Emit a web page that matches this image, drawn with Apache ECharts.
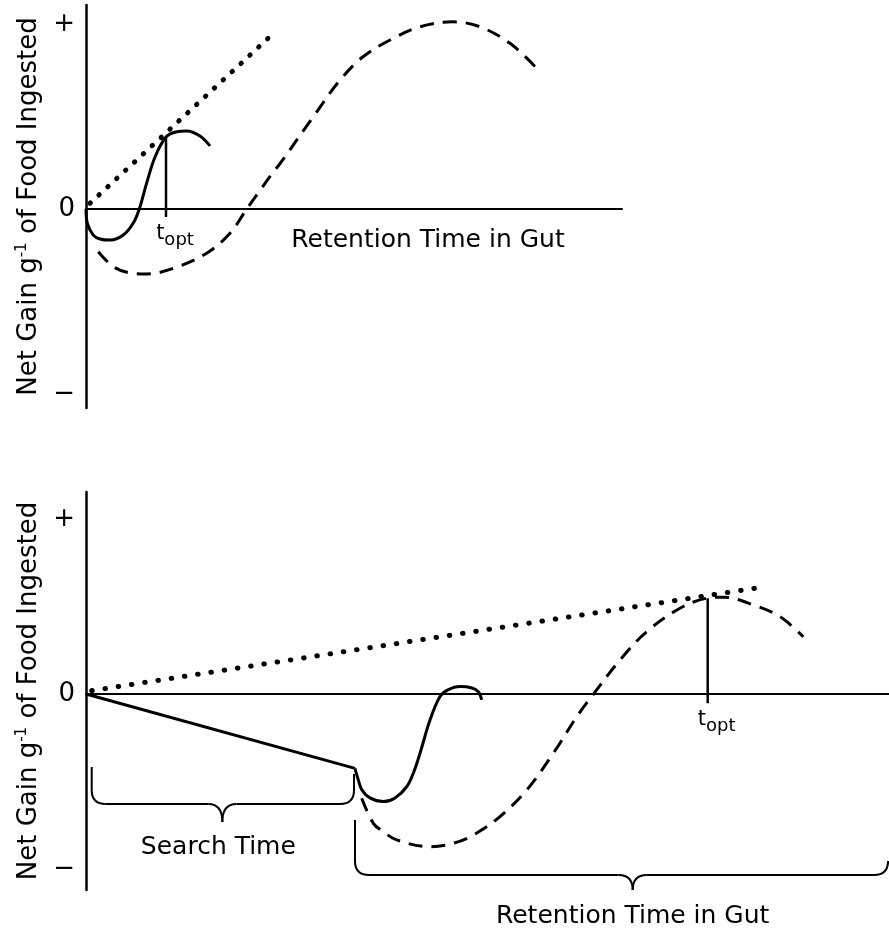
<!DOCTYPE html>
<html>
<head>
<meta charset="utf-8">
<script src="https://cdn.jsdelivr.net/npm/echarts@6/dist/echarts.min.js"></script>
<style>
html, body { margin: 0; padding: 0; background: #fff; }
#chart { width: 889px; height: 934px; }
</style>
</head>
<body>
<div id="chart"></div>
<script>
// x = time (arbitrary units), y = net gain (+1 / -1 at the + and - marks)

// upper panel
const topShort = [[0,0],[0.13,-0.076],[0.73,-0.141],[1.4,-0.162],[2.4,-0.168],[3.73,-0.141],[4.73,-0.076],[5.33,0],[6.07,0.141],[6.9,0.281],[8.0,0.389],[9.07,0.418],[10.07,0.422],[11.4,0.395],[12.4,0.341]];
const topLong = [[1.23,-0.231],[2.73,-0.312],[4.4,-0.346],[6.07,-0.351],[8.73,-0.321],[12.07,-0.239],[14.4,-0.131],[16.07,0],[17.4,0.1],[18.73,0.2],[19.4,0.245],[22.73,0.499],[25.4,0.697],[27.7,0.823],[30.4,0.914],[33.4,0.985],[36.7,1.012],[39.4,0.985],[42.4,0.896],[45.07,0.761]];
const topTangent = [[0.4,0.031],[18.75,0.95]];
const topOpt = [[8.0,0.389],[8.0,-0.043]];

// lower panel
const botSearch = [[0,0],[26.9,-0.425]];
const botShort = [[26.9,-0.425],[27.23,-0.491],[27.6,-0.549],[28.4,-0.594],[29.73,-0.615],[30.9,-0.594],[32.07,-0.53],[32.73,-0.453],[33.4,-0.339],[34.4,-0.149],[35.4,-0.015],[36.2,0.023],[37.4,0.042],[38.6,0.034],[39.23,0.013],[39.57,-0.034]];
const botLong = [[27.57,-0.596],[28.73,-0.739],[29.73,-0.787],[31.07,-0.834],[34.4,-0.873],[36.73,-0.853],[38.73,-0.806],[41.4,-0.701],[44.07,-0.549],[46.73,-0.339],[49.07,-0.13],[50.8,0.003],[53.4,0.194],[56.07,0.356],[59.4,0.49],[62.07,0.547],[63.73,0.553],[66.73,0.509],[69.4,0.442],[71.73,0.327]];
const botTangent = [[0.57,0.019],[67.57,0.61]];
const botOpt = [[62.17,0.547],[62.17,-0.053]];
const searchSpan = [0.57, 26.9];
const retentionSpan = [26.9, 80.3];

const yTicks = [-1, 0, 1];
const yTickText = {'-1': '\u2212', '0': '0', '1': '+'};
const yTitle = 'Net Gain g{sup|-1} of Food Ingested';
const xTitle = 'Retention Time in Gut';
const searchTitle = 'Search Time';

const FONT = '"DejaVu Sans", sans-serif';

const chart = echarts.init(document.getElementById('chart'));

function yAxis(grid, min, max) {
  return {
    type: 'value', gridIndex: grid, min: min, max: max,
    splitLine: { show: false },
    axisTick: { show: false },
    axisLine: { show: true, onZero: false, lineStyle: { color: '#000', width: 2.5 } },
    axisLabel: {
      customValues: yTicks, margin: 11,
      fontSize: 26, fontFamily: FONT, color: '#000',
      formatter: v => yTickText[String(Math.round(v))]
    },
    name: yTitle, nameLocation: 'middle', nameRotate: 90, nameGap: 43,
    nameTextStyle: {
      fontSize: 26, fontFamily: FONT, color: '#000',
      rich: { sup: { fontSize: 15, fontFamily: FONT, color: '#000', verticalAlign: 'top', lineHeight: 28 } }
    }
  };
}

function xAxis(grid, max) {
  return {
    type: 'value', gridIndex: grid, min: 0, max: max,
    splitLine: { show: false },
    axisTick: { show: false },
    axisLabel: { show: false },
    axisLine: { show: true, onZero: true, lineStyle: { color: '#000', width: 2 } }
  };
}

function curve(grid, data, kind, smooth, gap) {
  const style = { color: '#000', width: 3 };
  if (kind === 'dash') { style.type = [14, 9]; }
  if (kind === 'dot') { style.type = [0.5, gap]; style.width = 5; style.cap = 'round'; }
  return {
    type: 'line', xAxisIndex: grid, yAxisIndex: grid, data: data,
    symbol: 'none', smooth: smooth ? 0.35 : false,
    lineStyle: style, silent: true, z: 3
  };
}

const optLabel = {
  show: true, position: 'bottom', distance: 6, offset: [9, 0],
  formatter: '{t|t}{s|opt}',
  rich: {
    t: { fontSize: 21, fontFamily: FONT, color: '#000', verticalAlign: 'top', lineHeight: 26 },
    s: { fontSize: 18, fontFamily: FONT, color: '#000', verticalAlign: 'bottom', lineHeight: 26 }
  }
};

function optLine(grid, data) {
  return {
    type: 'line', xAxisIndex: grid, yAxisIndex: grid,
    data: [data[0], { value: data[1], label: optLabel }],
    symbol: 'circle', symbolSize: 0, silent: true, z: 4,
    lineStyle: { color: '#000', width: 2.5 }
  };
}

chart.setOption({
  animation: false,
  backgroundColor: '#fff',
  grid: [
    { left: 86, top: 5, width: 536, height: 403 },
    { left: 86, top: 492, width: 803, height: 398 }
  ],
  xAxis: [xAxis(0, 53.6), xAxis(1, 80.3)],
  yAxis: [yAxis(0, -1.076, 1.103), yAxis(1, -1.12, 1.154)],
  series: [
    curve(0, topTangent, 'dot', false, 11.6),
    curve(0, topShort, 'solid', true),
    curve(0, topLong, 'dash', true),
    optLine(0, topOpt),
    curve(1, botTangent, 'dot', false, 12.9),
    curve(1, botSearch, 'solid'),
    curve(1, botShort, 'solid', true),
    curve(1, botLong, 'dash', true),
    optLine(1, botOpt)
  ]
});

// curly brace built from straight pieces and quadratic bends
const stroke = { stroke: '#000', lineWidth: 2, fill: null };
function seg(x1, y1, x2, y2) {
  return { type: 'line', silent: true, shape: { x1: x1, y1: y1, x2: x2, y2: y2 }, style: stroke };
}
function bend(x1, y1, cx, cy, x2, y2) {
  return { type: 'bezierCurve', silent: true, shape: { x1: x1, y1: y1, cpx1: cx, cpy1: cy, x2: x2, y2: y2 }, style: stroke };
}
function brace(x1, top1, x2, top2, yH, tipX, tipY, r) {
  return [
    seg(x1, top1, x1, yH - r),
    bend(x1, yH - r, x1, yH, x1 + r, yH),
    seg(x1 + r, yH, tipX - r, yH),
    bend(tipX - r, yH, tipX, yH, tipX, tipY),
    bend(tipX, tipY, tipX, yH, tipX + r, yH),
    seg(tipX + r, yH, x2 - r, yH),
    bend(x2 - r, yH, x2, yH, x2, yH - r),
    seg(x2, yH - r, x2, top2)
  ];
}

const px = (g, x) => chart.convertToPixel({ gridIndex: g }, [x, 0]);
const s0 = px(1, searchSpan[0]), s1 = px(1, searchSpan[1]);
const r0 = px(1, retentionSpan[0]), r1 = px(1, retentionSpan[1]);
const zeroY = s0[1];
const sTip = (s0[0] + s1[0]) / 2 - 1;
const rTip = r0[0] + (r1[0] - r0[0]) * 0.52;

const label = (t, x, y) => ({
  type: 'text', silent: true,
  style: { text: t, x: x, y: y, font: '25px ' + FONT, fill: '#000', align: 'center', verticalAlign: 'middle' }
});

chart.setOption({
  graphic: [].concat(
    brace(s0[0], zeroY + 73, s1[0] - 1, zeroY + 80, zeroY + 110, sTip, zeroY + 128, 14),
    brace(r0[0], zeroY + 126, r1[0] - 1, zeroY + 170, zeroY + 181, rTip, zeroY + 196, 14),
    [
      label(searchTitle, sTip - 4, zeroY + 154),
      label(xTitle, rTip, zeroY + 223),
      label(xTitle, 428, 240)
    ]
  )
});
</script>
</body>
</html>
